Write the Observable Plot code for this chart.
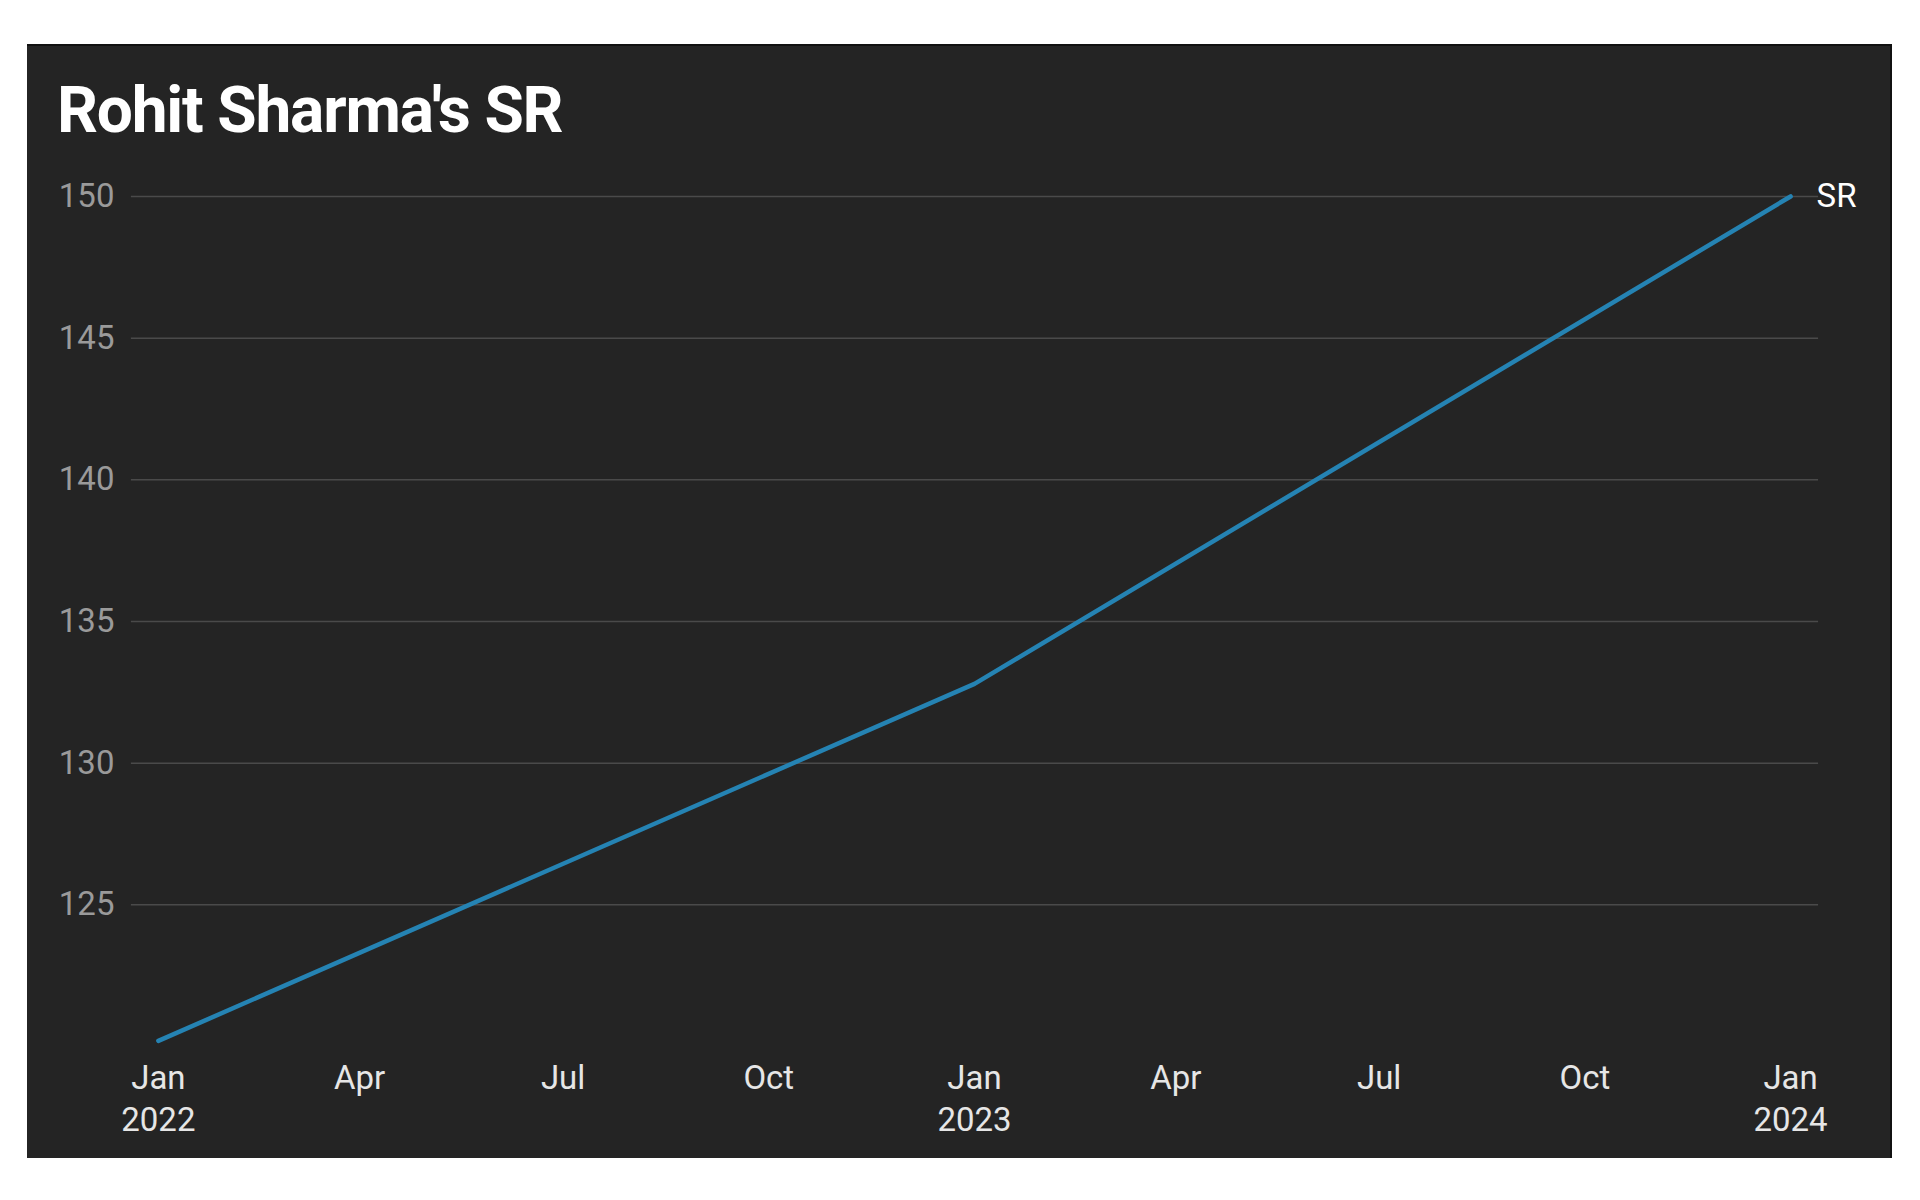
<!DOCTYPE html>
<html>
<head>
<meta charset="utf-8">
<script src="https://cdn.jsdelivr.net/npm/d3@7"></script>
<script src="https://cdn.jsdelivr.net/npm/@observablehq/plot@0.6"></script>
<style>
  html, body { margin: 0; padding: 0; background: #ffffff; width: 1920px; height: 1200px; overflow: hidden; }
  #panel {
    position: absolute; left: 27px; top: 44px; width: 1865px; height: 1114px;
    background: #242424; border-top: 2px solid #111; border-right: 2px solid #111; box-sizing: border-box;
    font-family: Roboto, "Noto Sans", sans-serif;
  }
  #title {
    position: absolute; left: 30px; top: 33px; margin: 0;
    font: 700 64px/1 Roboto, sans-serif; color: #ffffff; letter-spacing: -1.2px;
  }
  #chart { position: absolute; left: 0; top: 105px; }
</style>
</head>
<body>
<div id="panel">
  <h1 id="title">Rohit Sharma's SR</h1>
  <div id="chart"></div>
</div>
<script>
// Data
const years = ["2022-01-01", "2023-01-01", "2024-01-01"];
const srValues = [120.2, 132.8, 150.0];
const seriesName = "SR";
const xTickDates = ["2022-01-01","2022-04-01","2022-07-01","2022-10-01","2023-01-01","2023-04-01","2023-07-01","2023-10-01","2024-01-01"];
const yTicks = [125, 130, 135, 140, 145, 150];
const monthNames = ["Jan","Feb","Mar","Apr","May","Jun","Jul","Aug","Sep","Oct","Nov","Dec"];

const data = years.map((d, i) => ({date: new Date(d), sr: srValues[i]}));
const last = data[data.length - 1];

const chart = Plot.plot({
  width: 1865,
  height: 1008,
  marginTop: 45,
  marginBottom: 112,
  marginLeft: 104,
  marginRight: 72,
  style: {background: "transparent", fontFamily: "Roboto, sans-serif", overflow: "visible"},
  x: {type: "utc", domain: [new Date(years[0]), new Date(years[years.length - 1])], insetLeft: 27, insetRight: 28},
  y: {domain: [120, 150]},
  marks: [
    Plot.ruleY(yTicks, {stroke: "#4a4a4a", strokeWidth: 1.5}),
    Plot.axisY({
      ticks: yTicks, tickSize: 0, tickPadding: 17, label: null,
      fontSize: 33, fill: "#9a9a9a"
    }),
    Plot.axisX({
      ticks: xTickDates.map(d => new Date(d)), tickSize: 0, tickPadding: 13, label: null,
      fontSize: 33, fill: "#e6e6e6", lineHeight: 1.26,
      tickFormat: d => d.getUTCMonth() === 0
        ? `${monthNames[d.getUTCMonth()]}\n${d.getUTCFullYear()}`
        : monthNames[d.getUTCMonth()]
    }),
    Plot.line(data, {x: "date", y: "sr", stroke: "#2583b3", strokeWidth: 4.5}),
    Plot.text([last], {x: "date", y: "sr", text: () => seriesName, textAnchor: "start", dx: 26, fontSize: 33, fill: "#ffffff"})
  ]
});
document.getElementById("chart").appendChild(chart);
</script>
</body>
</html>
